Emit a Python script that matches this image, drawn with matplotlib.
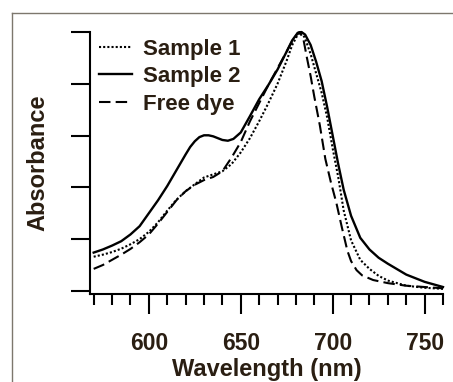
import matplotlib
matplotlib.use("Agg")
import matplotlib.pyplot as plt
from matplotlib.lines import Line2D
from matplotlib.ticker import MultipleLocator

# normalized absorbance spectra
wl_s1 = [570, 575, 580, 585, 590, 595, 600, 605, 610, 615, 620, 625, 630, 635, 640,
         645, 650, 655, 660, 665, 670, 675, 678, 681, 683, 685, 688, 691, 694, 697,
         700, 703, 706, 710, 715, 720, 725, 730, 740, 750, 760]
abs_s1 = [0.132, 0.140, 0.150, 0.163, 0.180, 0.200, 0.228, 0.265, 0.310, 0.352, 0.385,
          0.412, 0.438, 0.450, 0.462, 0.490, 0.535, 0.590, 0.655, 0.725, 0.800, 0.890,
          0.950, 0.990, 1.000, 0.975, 0.915, 0.840, 0.765, 0.670, 0.550, 0.440, 0.310,
          0.195, 0.120, 0.085, 0.058, 0.040, 0.020, 0.012, 0.008]

wl_s2 = [570, 575, 580, 585, 590, 595, 600, 605, 610, 615, 620, 622.5, 625, 627.5, 630,
         632.5, 635, 637.5, 640, 643, 646, 650, 655, 660, 665, 670, 675, 678, 681, 683,
         685, 688, 691, 694, 697, 700, 703, 706, 710, 715, 720, 725, 730, 740, 750, 760]
abs_s2 = [0.148, 0.160, 0.175, 0.192, 0.218, 0.250, 0.300, 0.350, 0.405, 0.466, 0.527,
          0.556, 0.578, 0.594, 0.601, 0.601, 0.597, 0.590, 0.583, 0.580, 0.587, 0.612,
          0.675, 0.740, 0.795, 0.855, 0.925, 0.968, 0.997, 1.000, 0.990, 0.950, 0.885,
          0.810, 0.710, 0.600, 0.490, 0.390, 0.290, 0.205, 0.160, 0.128, 0.105, 0.063,
          0.035, 0.015]

wl_dye = [570, 575, 580, 585, 590, 595, 600, 605, 610, 615, 620, 625, 630, 635, 640,
          645, 650, 655, 660, 665, 670, 675, 678, 681, 682, 684, 686, 688, 690, 693,
          696, 699, 702, 705, 708, 710, 713, 716, 722, 730, 740, 750, 760]
abs_dye = [0.085, 0.100, 0.120, 0.140, 0.162, 0.188, 0.218, 0.260, 0.305, 0.350, 0.385,
           0.410, 0.428, 0.440, 0.462, 0.515, 0.575, 0.655, 0.725, 0.795, 0.860, 0.925,
           0.965, 0.995, 1.000, 0.975, 0.900, 0.830, 0.750, 0.640, 0.510, 0.420, 0.340,
           0.245, 0.155, 0.115, 0.080, 0.060, 0.042, 0.030, 0.020, 0.015, 0.010]

series_labels = ["Sample 1", "Sample 2", "Free dye"]
x_ticks = [600, 650, 700, 750]
y_ticks = [0, 0.2, 0.4, 0.6, 0.8, 1.0]

txt = "#2a1e12"
plt.rcParams['font.family'] = ['Liberation Sans', 'DejaVu Sans']
plt.rcParams['font.weight'] = 'bold'

fig = plt.figure(figsize=(4.53, 3.82), dpi=100)
ax = fig.add_axes([90 / 453, 88 / 382, 353 / 453, 262 / 382])

ax.plot(wl_s1, abs_s1, color='black', lw=1.5, linestyle=(0, (1, 1)), label=series_labels[0], clip_on=False)
ax.plot(wl_s2, abs_s2, color='black', lw=1.7, label=series_labels[1], clip_on=False)
ax.plot(wl_dye, abs_dye, color='black', lw=1.5, linestyle=(0, (5.5, 2.5)), label=series_labels[2], clip_on=False)

ax.set_xlim(568, 760)
ax.set_ylim(-0.012, 1.0)
ax.set_xticks(x_ticks)
ax.xaxis.set_minor_locator(MultipleLocator(10))
ax.set_yticks(y_ticks)
ax.set_yticklabels([])

for s in ['top', 'right']:
    ax.spines[s].set_visible(False)
for s in ['left', 'bottom']:
    ax.spines[s].set_linewidth(1.5)

ax.tick_params(axis='x', which='major', direction='out', length=14.4, width=1.5,
               labelsize=16.5, pad=13, colors='black', labelcolor=txt)
ax.tick_params(axis='x', which='minor', direction='out', length=8, width=1.5)
ax.tick_params(axis='y', which='major', direction='out', length=13.7, width=1.5)

ax.set_xlabel('Wavelength (nm)', fontsize=17, fontweight='bold', color=txt, labelpad=2)
ax.set_ylabel('Absorbance', fontsize=17, fontweight='bold', color=txt, labelpad=12)

leg = ax.legend(loc='upper left', bbox_to_anchor=(0.025, 0.975), frameon=False,
                fontsize=16, handlelength=1.5, handletextpad=0.5, labelspacing=0.3,
                borderaxespad=0, borderpad=0)
for t in leg.get_texts():
    t.set_color(txt)
    t.set_fontweight('bold')

# grey frame around the panel (left and top edges visible)
fx = 12.3 / 453
fy = 1 - 13.3 / 382
fig.add_artist(Line2D([fx, fx], [0, fy], transform=fig.transFigure, color='#7d776d', lw=1.0))
fig.add_artist(Line2D([fx, 1], [fy, fy], transform=fig.transFigure, color='#7d776d', lw=1.0))

fig.savefig('out.png', dpi=100)
